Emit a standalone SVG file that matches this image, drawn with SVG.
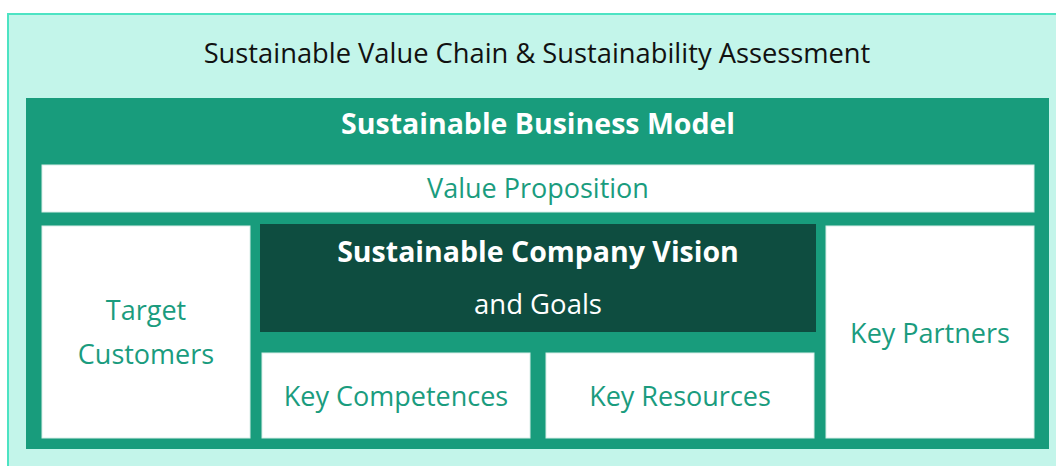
<svg xmlns="http://www.w3.org/2000/svg" width="1056" height="466" viewBox="0 0 1056 466">
<style>
.t{font-family:"Open Sans","Noto Sans","Liberation Sans",sans-serif;text-anchor:middle}
.w{fill:#ffffff;stroke:#d8eee8;stroke-width:1}
.lbl{fill:#1a9c7e;font-size:27px}
.wt{fill:#ffffff}
.b{font-size:28.5px;font-weight:bold}
</style>
<rect width="1056" height="466" fill="#ffffff"/>
<g id="outer">
<rect x="8" y="14" width="1060" height="470" fill="#c3f5ea" stroke="#4de3c3" stroke-width="2"/>
<text class="t" x="537" y="63" font-size="27.3" fill="#111111">Sustainable Value Chain &amp; Sustainability Assessment</text>
</g>
<g id="business-model">
<rect x="26" y="98" width="1023" height="351" fill="#189c7c"/>
<text class="t wt b" x="538" y="134">Sustainable Business Model</text>
</g>
<g id="value-proposition">
<rect class="w" x="42" y="165" width="992" height="47"/>
<text class="t lbl" x="538" y="198" font-size="26.8">Value Proposition</text>
</g>
<g id="target-customers">
<rect class="w" x="42" y="226" width="208" height="212"/>
<text class="t lbl" x="146" y="320">Target</text>
<text class="t lbl" x="146" y="364">Customers</text>
</g>
<g id="vision">
<rect x="260" y="224" width="556" height="108" fill="#0e4d40"/>
<text class="t wt b" x="538" y="262" font-size="28.6">Sustainable Company Vision</text>
<text class="t wt" x="538" y="314" font-size="27.5">and Goals</text>
</g>
<g id="key-competences">
<rect class="w" x="262" y="353" width="268" height="85"/>
<text class="t lbl" x="396" y="406">Key Competences</text>
</g>
<g id="key-resources">
<rect class="w" x="546" y="353" width="268" height="85"/>
<text class="t lbl" x="680" y="406">Key Resources</text>
</g>
<g id="key-partners">
<rect class="w" x="826" y="226" width="208" height="212"/>
<text class="t lbl" x="930" y="343">Key Partners</text>
</g>
<g id="connectors"/>
</svg>
